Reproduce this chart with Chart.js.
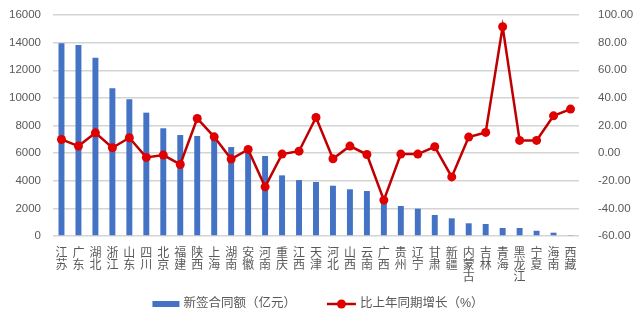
<!DOCTYPE html>
<html>
<head>
<meta charset="utf-8">
<script src="https://cdn.jsdelivr.net/npm/chart.js@4"></script>
<style>
  html, body { margin: 0; padding: 0; background: #fff; }
  #wrap { width: 640px; height: 326px; }
</style>
</head>
<body>
<div id="wrap"><canvas id="c" width="640" height="326"></canvas></div>
<script>
// provinces, contract value (100m yuan) and year-on-year growth (%)
const provinces = [
    "江苏", "广东", "湖北", "浙江", "山东", "四川", "北京", "福建", "陕西", "上海",
    "湖南", "安徽", "河南", "重庆", "江西", "天津", "河北", "山西", "云南", "广西",
    "贵州", "辽宁", "甘肃", "新疆", "内蒙古", "吉林", "青海", "黑龙江", "宁夏", "海南", "西藏"
];

const contractValue = [
    13950, 13830, 12910, 10690, 9900, 8930, 7800, 7310, 7240, 7000,
    6440, 6100, 5790, 4390, 4050, 3910, 3640, 3380, 3260, 2370,
    2170, 1980, 1520, 1280, 920, 870, 580, 580, 380, 240, 70
];

const growth = [
    9.9, 5.1, 14.7, 3.9, 11.1, -3.1, -1.4, -8.2, 25.1, 11.8,
    -4.3, 2.7, -24.4, -0.7, 1.4, 25.8, -4.1, 5.1, -1.0, -34.0,
    -0.7, -0.7, 4.6, -17.2, 11.6, 15.0, 91.5, 9.2, 9.2, 27.0, 31.9
];

const seriesNames = ["新签合同额（亿元）", "比上年同期增长（%）"];

const BLUE = "#4472C4";
const RED_LINE = "#C00000";
const RED_DOT = "#E00000";
const GREY_TEXT = "#595959";
const GRID = "#D4D4D4";
const FONT = "'Liberation Sans', 'Noto Sans CJK SC', sans-serif";

// legend drawn by hand under the axis labels
const bottomLegend = {
    id: "bottomLegend",
    afterDraw(chart) {
        const ctx = chart.ctx;
        const y = chart.height - 22;
        ctx.save();
        ctx.font = "12.5px " + FONT;
        ctx.textBaseline = "middle";
        const w1 = ctx.measureText(seriesNames[0]).width;
        const w2 = ctx.measureText(seriesNames[1]).width;
        const total = 27 + 4 + w1 + 31 + 29 + 4 + w2;
        let x = chart.width / 2 - 2 - total / 2;

        ctx.fillStyle = BLUE;
        ctx.fillRect(x, y - 3, 27, 6);
        x += 31;
        ctx.fillStyle = GREY_TEXT;
        ctx.fillText(seriesNames[0], x, y);
        x += w1 + 31;

        ctx.strokeStyle = RED_LINE;
        ctx.lineWidth = 2.5;
        ctx.beginPath();
        ctx.moveTo(x, y);
        ctx.lineTo(x + 29, y);
        ctx.stroke();
        ctx.fillStyle = RED_DOT;
        ctx.beginPath();
        ctx.arc(x + 14.5, y, 4.5, 0, Math.PI * 2);
        ctx.fill();
        x += 33;
        ctx.fillStyle = GREY_TEXT;
        ctx.fillText(seriesNames[1], x, y);
        ctx.restore();
    }
};

// vertical axes: fixed width and no extra padding above/below the plot
function fixAxis(width) {
    return function (scale) {
        scale.width = width;
        scale.paddingTop = 0;
        scale.paddingBottom = 0;
    };
}

new Chart(document.getElementById("c"), {
    data: {
        labels: provinces.map(p => p.split("")),
        datasets: [
            {
                type: "bar",
                label: seriesNames[0],
                data: contractValue,
                backgroundColor: BLUE,
                barPercentage: 0.35,
                categoryPercentage: 1,
                yAxisID: "y",
                order: 1
            },
            {
                type: "line",
                label: seriesNames[1],
                data: growth,
                borderColor: RED_LINE,
                borderWidth: 2.5,
                backgroundColor: RED_DOT,
                pointBackgroundColor: RED_DOT,
                pointBorderColor: RED_DOT,
                pointRadius: 4.5,
                pointBorderWidth: 0,
                tension: 0,
                yAxisID: "y1",
                order: 0
            }
        ]
    },
    options: {
        responsive: false,
        animation: false,
        devicePixelRatio: 1,
        layout: {
            padding: { top: 15, right: 0, bottom: 40, left: 0 }
        },
        plugins: {
            tooltip: { enabled: false },
            legend: { display: false }
        },
        scales: {
            x: {
                grid: { display: false },
                border: { display: false },
                ticks: {
                    color: GREY_TEXT,
                    padding: 4,
                    maxRotation: 0,
                    autoSkip: false,
                    font: { family: FONT, size: 12, lineHeight: 1.0 }
                },
                afterFit: function (scale) { scale.height = 50; }
            },
            y: {
                position: "left",
                min: 0,
                max: 16000,
                grid: { color: GRID, lineWidth: 1.5, drawTicks: false },
                border: { display: false },
                ticks: {
                    stepSize: 2000,
                    color: GREY_TEXT,
                    padding: 12,
                    font: { family: FONT, size: 11.5 },
                    callback: v => String(v)
                },
                afterFit: fixAxis(53)
            },
            y1: {
                position: "right",
                min: -60,
                max: 100,
                grid: { display: false },
                border: { display: false },
                ticks: {
                    stepSize: 20,
                    color: GREY_TEXT,
                    padding: 11,
                    font: { family: FONT, size: 11.5 },
                    callback: v => v.toFixed(2)
                },
                afterFit: fixAxis(61)
            }
        }
    },
    plugins: [bottomLegend]
});
</script>
</body>
</html>
